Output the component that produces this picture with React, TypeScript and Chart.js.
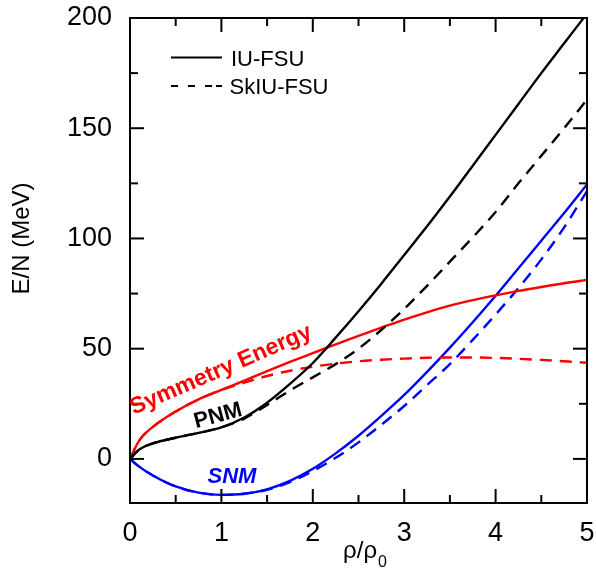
import React, { useEffect, useRef } from 'react';
import { Chart, registerables } from 'chart.js';

Chart.register(...registerables);

// density rho/rho0
const densities = [0, 0.1, 0.25, 0.5, 0.75, 1, 1.25, 1.5, 1.75, 2, 2.25, 2.5, 2.75, 3, 3.25, 3.5, 3.75, 4, 4.25, 4.5, 4.75, 5];

// Pure neutron matter
const pnmIUFSU = [0, 4.2, 7, 9.6, 11.8, 14.3, 18.8, 25.5, 34, 43.5, 55, 67, 79.5, 92.5, 105.5, 119, 133, 147, 161, 175, 188.5, 202];
const pnmSkIUFSU = [0, 4.2, 7, 9.6, 11.8, 14.3, 18.3, 24.5, 31, 37, 43, 50, 58.5, 68, 78.5, 89.5, 100.5, 112, 125, 137.5, 150, 163];

// Symmetric nuclear matter
const snmIUFSU = [0, -3.5, -7.5, -12.5, -15.3, -16.3, -15.8, -13.8, -10, -4.5, 2.5, 10.5, 19.5, 29, 39.5, 50.5, 62, 74, 86.5, 99, 111.5, 124.5];
const snmSkIUFSU = [0, -3.5, -7.5, -12.5, -15.3, -16.3, -15.8, -14, -10.5, -5.5, 0.5, 7.5, 15.5, 24, 33.5, 43, 54, 65.5, 77.5, 90.5, 105, 121.5];

// Symmetry energy
const symIUFSU = [0, 8.3, 14.5, 21.5, 27, 31.3, 35.5, 39.8, 44, 48, 52, 55.8, 59.5, 63.2, 66.5, 69.5, 72, 74.2, 76.2, 78, 79.7, 81.2];
const symSkIUFSU = [0, 8.3, 14.5, 21.5, 27, 31.3, 34.6, 37.6, 40, 41.8, 43.2, 44.3, 45, 45.5, 45.9, 46, 46, 45.8, 45.4, 44.9, 44.3, 43.6];

const xTickValues = [0, 1, 2, 3, 4, 5];
const xTickLabels = ['0', '1', '2', '3', '4', '5'];
const yTickValues = [0, 50, 100, 150, 200];
const yTickLabels = ['0', '50', '100', '150', '200'];

const xTitleMain = 'ρ/ρ';
const xTitleSub = '0';
const yTitle = 'E/N (MeV)';
const legendLabels = ['IU-FSU', 'SkIU-FSU'];
const labelSym = 'Symmetry Energy';
const labelPNM = 'PNM';
const labelSNM = 'SNM';

const BLACK = '#000000';
const RED = '#ff0000';
const BLUE = '#0000ff';
const FONT = '"Liberation Sans", Arial, Helvetica, sans-serif';

export default function App() {
  const ref = useRef<HTMLCanvasElement>(null);

  useEffect(() => {
    if (!ref.current) return;
    const mk = (label: string, ys: number[], color: string, dashed: boolean) => ({
      label,
      data: densities.map((x, i) => ({ x, y: ys[i] })),
      borderColor: color,
      backgroundColor: color,
      borderWidth: 2.4,
      borderDash: dashed ? [12, 8] : [],
      pointRadius: 0,
      cubicInterpolationMode: 'monotone' as const,
      fill: false,
    });

    const zeroPad = (s: any) => {
      s.paddingTop = 0;
      s.paddingBottom = 0;
      s.paddingLeft = 0;
      s.paddingRight = 0;
    };

    const decor = {
      id: 'decor',
      afterDraw(chart: any) {
        const { ctx, chartArea: a, scales } = chart;
        const xs = scales.x;
        const ys = scales.y;
        const line = (x1: number, y1: number, x2: number, y2: number) => {
          ctx.beginPath();
          ctx.moveTo(x1, y1);
          ctx.lineTo(x2, y2);
          ctx.stroke();
        };
        ctx.save();
        ctx.strokeStyle = BLACK;
        ctx.lineWidth = 2;
        ctx.setLineDash([]);
        ctx.strokeRect(a.left, a.top, a.right - a.left, a.bottom - a.top);
        for (let i = 0; i <= 10; i++) {
          const v = i * 0.5;
          const px = xs.getPixelForValue(v);
          const L = i % 2 === 0 ? 14 : 8;
          line(px, a.bottom, px, a.bottom - L);
          line(px, a.top, px, a.top + L);
        }
        for (let i = 0; i <= 8; i++) {
          const v = i * 25;
          const py = ys.getPixelForValue(v);
          const L = i % 2 === 0 ? 14 : 8;
          line(a.left, py, a.left + L, py);
          line(a.right, py, a.right - L, py);
        }

        // y title
        ctx.fillStyle = BLACK;
        ctx.font = `24px ${FONT}`;
        ctx.textAlign = 'center';
        ctx.textBaseline = 'middle';
        ctx.save();
        ctx.translate(22, (ys.getPixelForValue(0) + ys.getPixelForValue(200)) / 2);
        ctx.rotate(-Math.PI / 2);
        ctx.fillText(yTitle, 0, 0);
        ctx.restore();

        // x title with subscript
        ctx.textBaseline = 'alphabetic';
        ctx.textAlign = 'left';
        ctx.font = `24px ${FONT}`;
        const wMain = ctx.measureText(xTitleMain).width;
        ctx.font = `16px ${FONT}`;
        const wSub = ctx.measureText(xTitleSub).width;
        const cx = (a.left + a.right) / 2 + 6;
        const startX = cx - (wMain + wSub) / 2;
        ctx.font = `24px ${FONT}`;
        ctx.fillText(xTitleMain, startX, 558);
        ctx.font = `16px ${FONT}`;
        ctx.fillText(xTitleSub, startX + wMain + 1, 567);

        // legend
        ctx.lineWidth = 2;
        line(171, 57.5, 222, 57.5);
        const dashes = [[171, 178], [188, 195], [205, 212], [216, 222]];
        dashes.forEach(([s, e]) => line(s, 86, e, 86));
        ctx.font = `22px ${FONT}`;
        ctx.textBaseline = 'middle';
        ctx.textAlign = 'left';
        ctx.fillText(legendLabels[0], 231, 60);
        ctx.fillText(legendLabels[1], 229.5, 88);

        const rotText = (t: string, x: number, y: number, deg: number, color: string, font: string) => {
          ctx.save();
          ctx.translate(x, y);
          ctx.rotate((deg * Math.PI) / 180);
          ctx.fillStyle = color;
          ctx.font = font;
          ctx.textAlign = 'center';
          ctx.textBaseline = 'middle';
          ctx.fillText(t, 0, 0);
          ctx.restore();
        };
        rotText(labelSym, 221, 370, -23.5, RED, `bold 23px ${FONT}`);
        rotText(labelPNM, 218, 416, -15, BLACK, `bold 22px ${FONT}`);
        rotText(labelSNM, 232, 477, 0, BLUE, `italic bold 22px ${FONT}`);
        ctx.restore();
      },
    };

    const chart = new Chart(ref.current, {
      type: 'line',
      data: {
        datasets: [
          mk('PNM IU-FSU', pnmIUFSU, BLACK, false),
          mk('PNM SkIU-FSU', pnmSkIUFSU, BLACK, true),
          mk('Esym IU-FSU', symIUFSU, RED, false),
          mk('Esym SkIU-FSU', symSkIUFSU, RED, true),
          mk('SNM IU-FSU', snmIUFSU, BLUE, false),
          mk('SNM SkIU-FSU', snmSkIUFSU, BLUE, true),
        ],
      },
      options: {
        responsive: false,
        animation: false,
        devicePixelRatio: 1,
        layout: { padding: { left: 0, top: 18, right: 9, bottom: 0 } },
        plugins: { legend: { display: false }, tooltip: { enabled: false } },
        scales: {
          x: {
            type: 'linear',
            min: 0,
            max: 5,
            grid: { display: false, drawTicks: false },
            border: { display: false },
            afterBuildTicks: (s: any) => {
              s.ticks = xTickValues.map((v) => ({ value: v }));
            },
            afterFit: (s: any) => {
              s.height = 73;
              zeroPad(s);
            },
            ticks: {
              padding: 14,
              maxRotation: 0,
              autoSkip: false,
              color: BLACK,
              font: { family: FONT, size: 27 },
              callback: (v: any) => {
                const i = xTickValues.indexOf(Number(v));
                return i >= 0 ? xTickLabels[i] : '';
              },
            },
          },
          y: {
            type: 'linear',
            min: -20,
            max: 200,
            grid: { display: false, drawTicks: false },
            border: { display: false },
            afterBuildTicks: (s: any) => {
              s.ticks = yTickValues.map((v) => ({ value: v }));
            },
            afterFit: (s: any) => {
              s.width = 130;
              zeroPad(s);
            },
            ticks: {
              padding: 18,
              autoSkip: false,
              color: BLACK,
              font: { family: FONT, size: 27 },
              callback: (v: any) => {
                const i = yTickValues.indexOf(Number(v));
                return i >= 0 ? yTickLabels[i] : '';
              },
            },
          },
        },
      },
      plugins: [decor],
    } as any);

    return () => chart.destroy();
  }, []);

  return (
    <div style={{ position: 'absolute', left: 0, top: 0, width: 596, height: 576, background: '#fff' }}>
      <canvas ref={ref} width={596} height={576} style={{ width: 596, height: 576, display: 'block' }} />
    </div>
  );
}
